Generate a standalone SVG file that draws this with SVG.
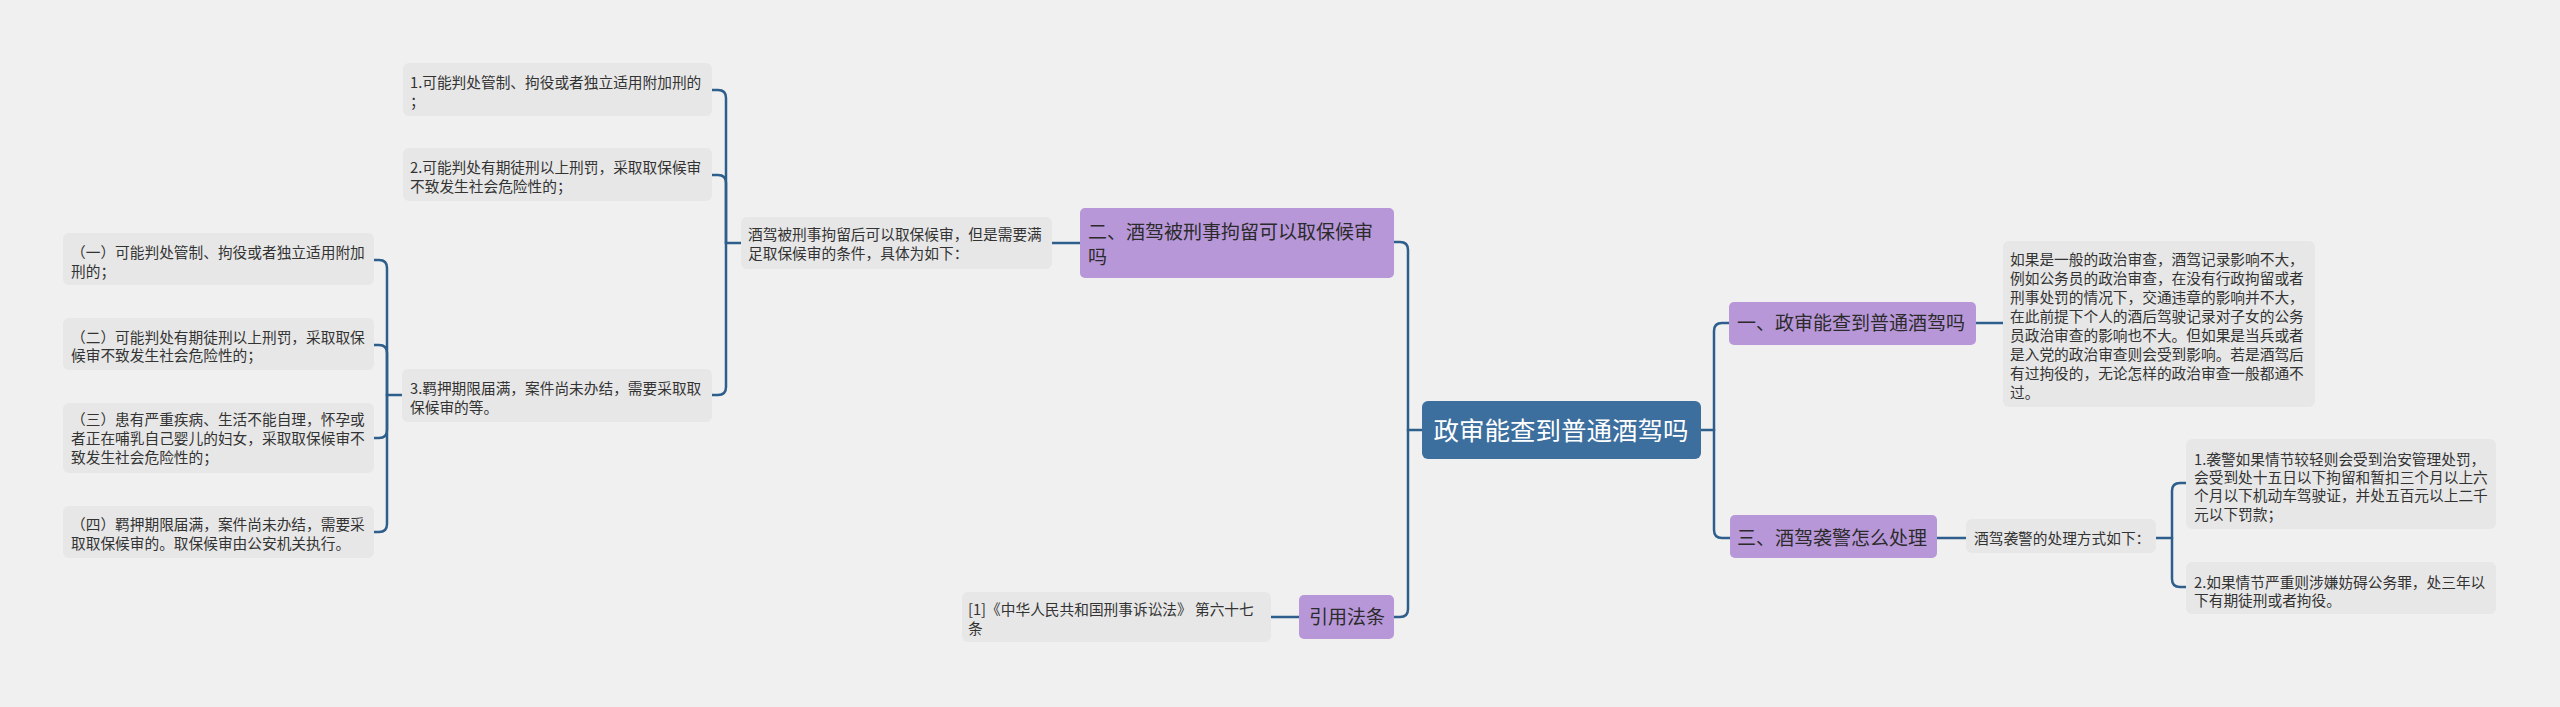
<svg xmlns="http://www.w3.org/2000/svg" width="2560" height="707" viewBox="0 0 2560 707">
<style>
.c{fill:none;stroke:#2e5f8c;stroke-width:2.5;stroke-linecap:round}
.leaf{fill:#e7e7e7}
.br{fill:#b897d9}
.lt{font-family:"Noto Sans CJK SC","Noto Sans",sans-serif;font-size:14.7px;fill:#333}
.bt{font-family:"Noto Sans CJK SC","Noto Sans",sans-serif;font-size:19px;fill:#2b2b2b}
.rt{font-family:"Noto Sans CJK SC","Noto Sans",sans-serif;font-size:25.5px;fill:#ffffff}
</style>
<rect x="0" y="0" width="2560" height="707" fill="#f0f0f0"/>
<g id="connectors">
<path class="c" d="M1422,430 H1408"/>
<path class="c" d="M1408,430 V250 Q1408,242 1400,242 H1394"/>
<path class="c" d="M1408,430 V609 Q1408,617 1400,617 H1394"/>
<path class="c" d="M1701,430 H1714"/>
<path class="c" d="M1714,430 V331 Q1714,323 1722,323 H1729"/>
<path class="c" d="M1714,430 V530 Q1714,538 1722,538 H1730"/>
<path class="c" d="M1976,323 H2003"/>
<path class="c" d="M1937,538 H1966"/>
<path class="c" d="M2156,538 H2172"/>
<path class="c" d="M2172,538 V491 Q2172,483 2180,483 H2186"/>
<path class="c" d="M2172,538 V579 Q2172,587 2180,587 H2186"/>
<path class="c" d="M1080,243 H1052"/>
<path class="c" d="M741,243 H726"/>
<path class="c" d="M726,243 V98 Q726,90 718,90 H712"/>
<path class="c" d="M726,243 V183 Q726,175 718,175 H712"/>
<path class="c" d="M726,243 V387 Q726,395 718,395 H712"/>
<path class="c" d="M402,395 H387"/>
<path class="c" d="M387,395 V268 Q387,260 379,260 H374"/>
<path class="c" d="M387,395 V353 Q387,345 379,345 H374"/>
<path class="c" d="M387,395 V430 Q387,438 379,438 H374"/>
<path class="c" d="M387,395 V524 Q387,532 379,532 H374"/>
<path class="c" d="M1299,617 H1271"/>
</g>
<g id="root">
<rect x="1422" y="401" width="279" height="58" rx="6" fill="#3c6e9e"/>
<text class="rt" x="1561" y="440" text-anchor="middle">政审能查到普通酒驾吗</text>
</g>
<g id="branch1">
<rect class="br" x="1729" y="302" width="247" height="43" rx="5"/>
<text class="bt" x="1737" y="330">一、政审能查到普通酒驾吗</text>
</g>
<g id="branch1-leaf">
<rect class="leaf" x="2003" y="241" width="312" height="166" rx="6"/>
<text class="lt" x="2010" y="264.6">
<tspan x="2010">如果是一般的政治审查，酒驾记录影响不大，</tspan>
<tspan x="2010" dy="19.1">例如公务员的政治审查，在没有行政拘留或者</tspan>
<tspan x="2010" dy="19.1">刑事处罚的情况下，交通违章的影响并不大，</tspan>
<tspan x="2010" dy="19.1">在此前提下个人的酒后驾驶记录对子女的公务</tspan>
<tspan x="2010" dy="19.1">员政治审查的影响也不大。但如果是当兵或者</tspan>
<tspan x="2010" dy="19.1">是入党的政治审查则会受到影响。若是酒驾后</tspan>
<tspan x="2010" dy="19.1">有过拘役的，无论怎样的政治审查一般都通不</tspan>
<tspan x="2010" dy="19.1">过。</tspan>
</text>
</g>
<g id="branch3">
<rect class="br" x="1730" y="515" width="207" height="43" rx="5"/>
<text class="bt" x="1737" y="545">三、酒驾袭警怎么处理</text>
</g>
<g id="branch3-child">
<rect class="leaf" x="1966" y="519" width="190" height="34" rx="6"/>
<text class="lt" x="1974" y="543.5">酒驾袭警的处理方式如下：</text>
</g>
<g id="branch3-leaf1">
<rect class="leaf" x="2186" y="439" width="310" height="90" rx="6"/>
<text class="lt" x="2194" y="464.5">
<tspan x="2194">1.袭警如果情节较轻则会受到治安管理处罚，</tspan>
<tspan x="2194" dy="18.4">会受到处十五日以下拘留和暂扣三个月以上六</tspan>
<tspan x="2194" dy="18.4">个月以下机动车驾驶证，并处五百元以上二千</tspan>
<tspan x="2194" dy="18.4">元以下罚款；</tspan>
</text>
</g>
<g id="branch3-leaf2">
<rect class="leaf" x="2186" y="562" width="310" height="52" rx="6"/>
<text class="lt" x="2194" y="587.5">
<tspan x="2194">2.如果情节严重则涉嫌妨碍公务罪，处三年以</tspan>
<tspan x="2194" dy="18.5">下有期徒刑或者拘役。</tspan>
</text>
</g>
<g id="branch2">
<rect class="br" x="1080" y="208" width="314" height="70" rx="5"/>
<text class="bt" x="1088" y="239">
<tspan x="1088">二、酒驾被刑事拘留可以取保候审</tspan>
<tspan x="1088" dy="25">吗</tspan>
</text>
</g>
<g id="branch2-child">
<rect class="leaf" x="741" y="217" width="311" height="52" rx="6"/>
<text class="lt" x="748" y="239.5">
<tspan x="748">酒驾被刑事拘留后可以取保候审，但是需要满</tspan>
<tspan x="748" dy="19">足取保候审的条件，具体为如下：</tspan>
</text>
</g>
<g id="b2-leaf1">
<rect class="leaf" x="403" y="63" width="309" height="53" rx="6"/>
<text class="lt" x="410" y="87.5">
<tspan x="410">1.可能判处管制、拘役或者独立适用附加刑的</tspan>
<tspan x="410" dy="19.5">；</tspan>
</text>
</g>
<g id="b2-leaf2">
<rect class="leaf" x="403" y="148" width="309" height="53" rx="6"/>
<text class="lt" x="410" y="172.5">
<tspan x="410">2.可能判处有期徒刑以上刑罚，采取取保候审</tspan>
<tspan x="410" dy="19">不致发生社会危险性的；</tspan>
</text>
</g>
<g id="b2-leaf3">
<rect class="leaf" x="402" y="369" width="310" height="53" rx="6"/>
<text class="lt" x="410" y="393.5">
<tspan x="410">3.羁押期限届满，案件尚未办结，需要采取取</tspan>
<tspan x="410" dy="19">保候审的等。</tspan>
</text>
</g>
<g id="sub1">
<rect class="leaf" x="63" y="233" width="311" height="52" rx="6"/>
<text class="lt" x="71" y="257.5">
<tspan x="71">（一）可能判处管制、拘役或者独立适用附加</tspan>
<tspan x="71" dy="19.5">刑的；</tspan>
</text>
</g>
<g id="sub2">
<rect class="leaf" x="63" y="318" width="311" height="52" rx="6"/>
<text class="lt" x="71" y="342.5">
<tspan x="71">（二）可能判处有期徒刑以上刑罚，采取取保</tspan>
<tspan x="71" dy="18.5">候审不致发生社会危险性的；</tspan>
</text>
</g>
<g id="sub3">
<rect class="leaf" x="63" y="403" width="311" height="70" rx="6"/>
<text class="lt" x="71" y="424.5">
<tspan x="71">（三）患有严重疾病、生活不能自理，怀孕或</tspan>
<tspan x="71" dy="19">者正在哺乳自己婴儿的妇女，采取取保候审不</tspan>
<tspan x="71" dy="19">致发生社会危险性的；</tspan>
</text>
</g>
<g id="sub4">
<rect class="leaf" x="63" y="506" width="311" height="52" rx="6"/>
<text class="lt" x="71" y="529.5">
<tspan x="71">（四）羁押期限届满，案件尚未办结，需要采</tspan>
<tspan x="71" dy="19">取取保候审的。取保候审由公安机关执行。</tspan>
</text>
</g>
<g id="cite">
<rect class="br" x="1299" y="595" width="95" height="44" rx="5"/>
<text class="bt" x="1309" y="624">引用法条</text>
</g>
<g id="cite-leaf">
<rect class="leaf" x="962" y="592" width="309" height="50" rx="6"/>
<text class="lt" x="968" y="614.5">
<tspan x="968">[1]《中华人民共和国刑事诉讼法》 第六十七</tspan>
<tspan x="968" dy="19">条</tspan>
</text>
</g>
</svg>
